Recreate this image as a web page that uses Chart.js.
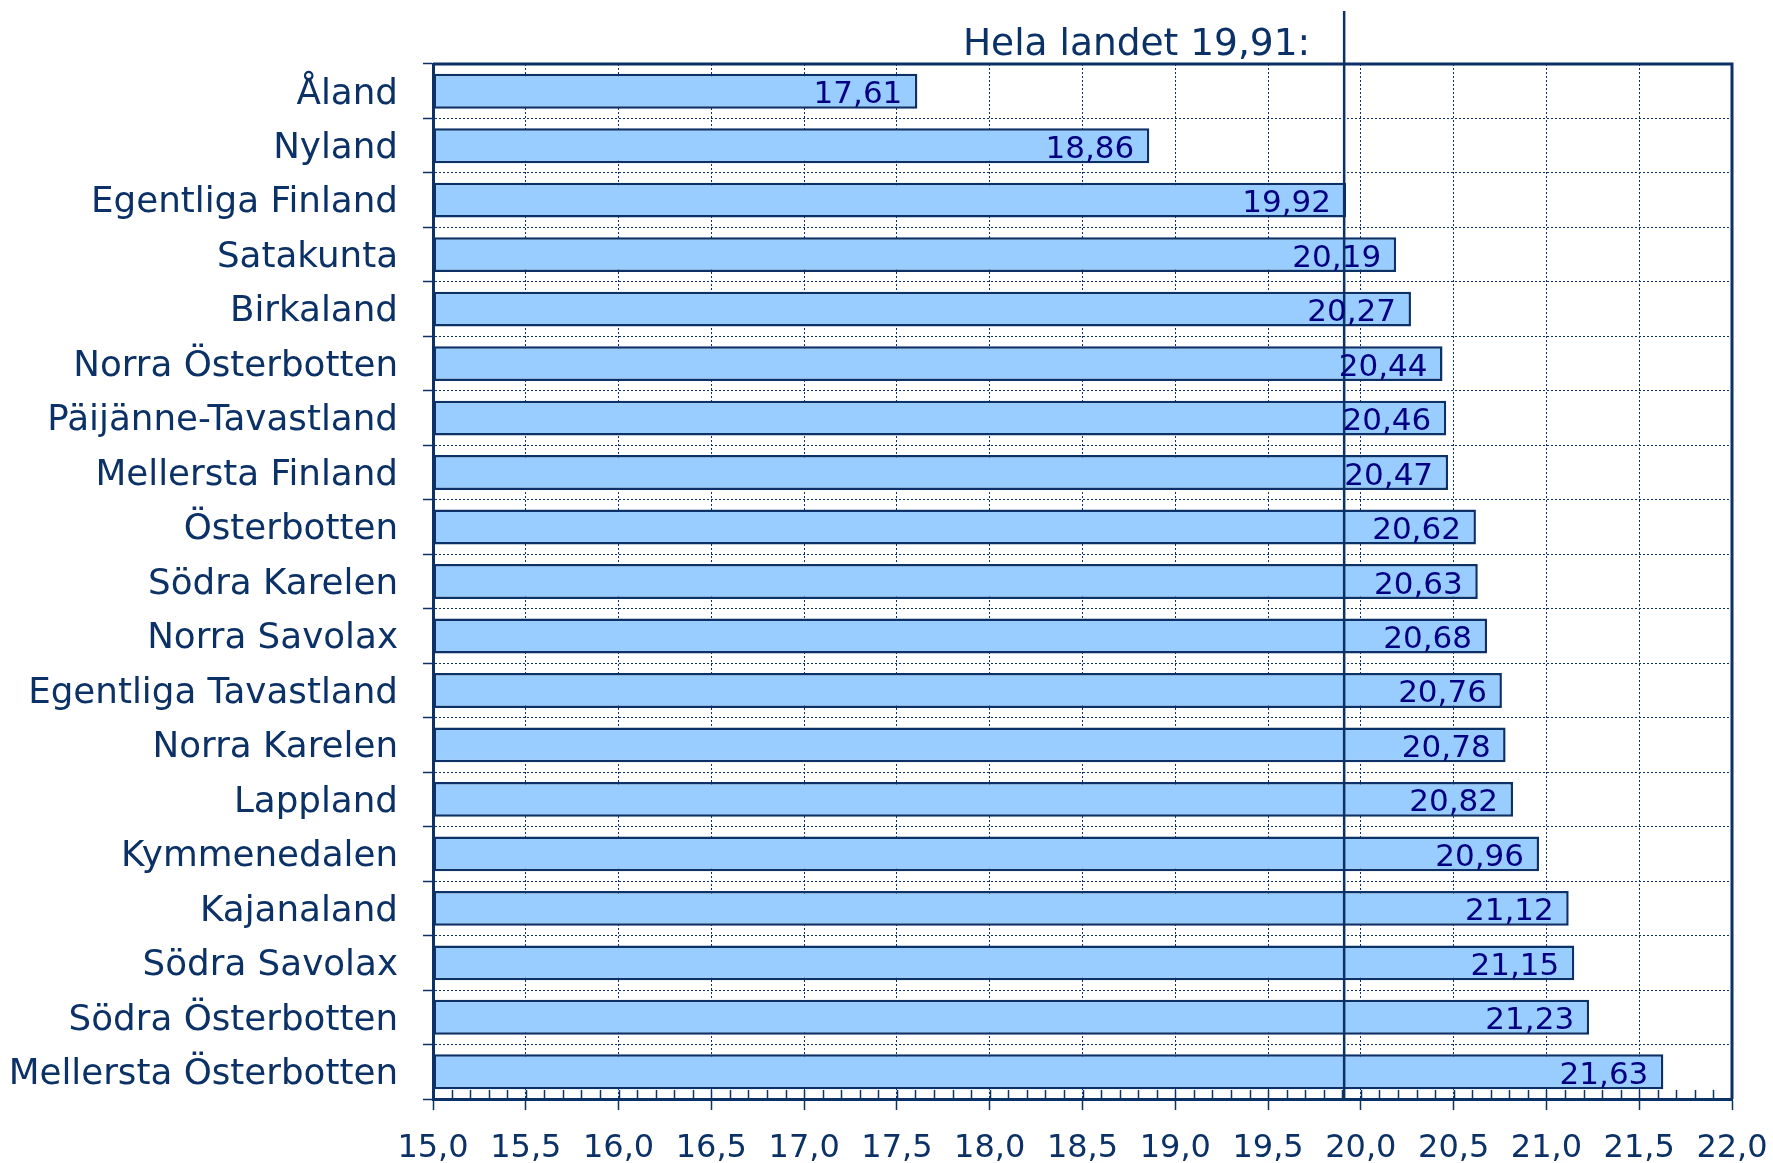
<!DOCTYPE html>
<html>
<head>
<meta charset="utf-8">
<script src="https://cdn.jsdelivr.net/npm/chart.js@4/dist/chart.umd.min.js"></script>
<style>
	body { margin: 0; background: #fff; }
	#wrap { width: 1773px; height: 1163px; position: relative; }
</style>
</head>
<body>
<div id="wrap"><canvas id="chart"></canvas></div>
<script>
const regions = [
	'Åland', 'Nyland', 'Egentliga Finland', 'Satakunta', 'Birkaland',
	'Norra Österbotten', 'Päijänne-Tavastland', 'Mellersta Finland', 'Österbotten',
	'Södra Karelen', 'Norra Savolax', 'Egentliga Tavastland', 'Norra Karelen',
	'Lappland', 'Kymmenedalen', 'Kajanaland', 'Södra Savolax', 'Södra Österbotten',
	'Mellersta Österbotten',
]
const values = [
	17.61, 18.86, 19.92, 20.19, 20.27,
	20.44, 20.46, 20.47, 20.62,
	20.63, 20.68, 20.76, 20.78,
	20.82, 20.96, 21.12, 21.15, 21.23,
	21.63,
]
const nationalAverage = 19.91
const nationalLabel = 'Hela landet 19,91:'
const axisMin = 15
const axisMax = 22
const axisStep = 0.5
const minorStep = 0.1

const navy = '#0b3166'
const labelNavy = '#000080'
const font = '"DejaVu Sans", Verdana, sans-serif'

const comma = (v, d) => v.toFixed(d).replace('.', ',')

const framePlugin = {
	id: 'frame',
	afterDatasetsDraw(chart) {
		const { ctx, chartArea, scales } = chart
		const x = scales.x

		// minor ticks inside the bottom edge
		ctx.save()
		ctx.strokeStyle = navy
		ctx.lineWidth = 1.5
		const n = Math.round((axisMax - axisMin) / minorStep)
		for (let i = 1; i < n; i++) {
			const px = Math.round(x.getPixelForValue(axisMin + i * minorStep)) + 0.5
			ctx.beginPath()
			ctx.moveTo(px, chartArea.bottom - 9)
			ctx.lineTo(px, chartArea.bottom)
			ctx.stroke()
		}

		// top and right border
		ctx.lineWidth = 3
		ctx.beginPath()
		ctx.moveTo(chartArea.left, chartArea.top)
		ctx.lineTo(chartArea.right, chartArea.top)
		ctx.lineTo(chartArea.right, chartArea.bottom)
		ctx.stroke()

		// national average line
		const ax = x.getPixelForValue(nationalAverage)
		ctx.lineWidth = 2.5
		ctx.beginPath()
		ctx.moveTo(ax, chartArea.top - 53)
		ctx.lineTo(ax, chartArea.bottom)
		ctx.stroke()

		ctx.fillStyle = navy
		ctx.font = '37.5px ' + font
		ctx.textAlign = 'right'
		ctx.textBaseline = 'alphabetic'
		ctx.fillText(nationalLabel, ax - 34, chartArea.top - 9)

		// value labels
		const meta = chart.getDatasetMeta(0)
		ctx.fillStyle = labelNavy
		ctx.font = '31px ' + font
		ctx.textBaseline = 'middle'
		meta.data.forEach((bar, i) => {
			ctx.fillText(comma(values[i], 2), bar.x - 15, bar.y + 4)
		})
		ctx.restore()
	},
}

new Chart(document.getElementById('chart'), {
	type: 'bar',
	data: {
		labels: regions,
		datasets: [{
			data: values,
			base: axisMin,
			backgroundColor: '#99ccff',
			borderColor: navy,
			borderWidth: 2.5,
			borderSkipped: false,
			barPercentage: 0.64,
			categoryPercentage: 1,
		}],
	},
	options: {
		indexAxis: 'y',
		responsive: true,
		maintainAspectRatio: false,
		animation: false,
		layout: { padding: { top: 64, right: 41, left: 0, bottom: 0 } },
		plugins: {
			legend: { display: false },
			tooltip: { enabled: false },
		},
		scales: {
			x: {
				min: axisMin,
				max: axisMax,
				afterFit: (scale) => {
					scale.height = 64
					scale.paddingLeft = 0
					scale.paddingRight = 0
				},
				ticks: {
					stepSize: axisStep,
					color: navy,
					font: { family: font, size: 32 },
					padding: 19,
					maxRotation: 0,
					autoSkip: false,
					callback: (v) => comma(v, 1),
				},
				grid: {
					color: navy,
					lineWidth: 1,
					tickLength: 11,
					tickColor: navy,
					tickWidth: 1.5,
				},
				border: { color: navy, width: 3, dash: [2, 2] },
			},
			y: {
				afterFit: (scale) => { scale.width = 433 },
				ticks: {
					color: navy,
					font: { family: font, size: 35.7 },
					padding: 25,
					labelOffset: 3,
					autoSkip: false,
				},
				grid: {
					offset: true,
					color: navy,
					lineWidth: 1,
					tickLength: 10,
					tickColor: navy,
					tickWidth: 1.5,
				},
				border: { color: navy, width: 3, dash: [2, 2] },
			},
		},
	},
	plugins: [framePlugin],
})
</script>
</body>
</html>
